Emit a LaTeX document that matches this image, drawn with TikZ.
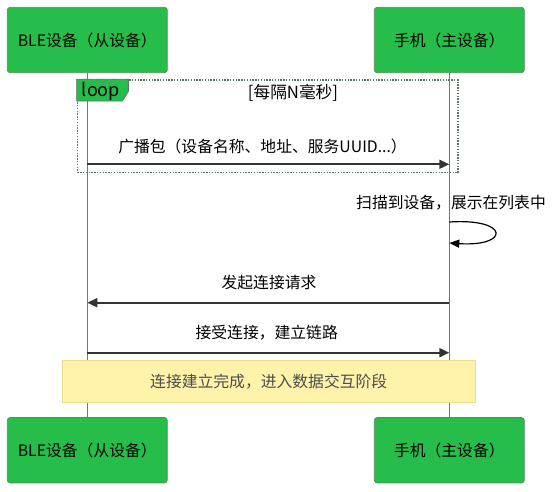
\documentclass[tikz,border=0pt]{standalone}
\usepackage{fontspec}
\setmainfont{Noto Sans CJK SC}
\usetikzlibrary{arrows.meta,positioning,calc}
\definecolor{boxgreen}{RGB}{39,189,74}
\definecolor{boxedge}{RGB}{84,140,98}
\definecolor{lifegreen}{RGB}{88,136,104}
\definecolor{msggray}{RGB}{51,51,51}
\definecolor{framegray}{RGB}{90,120,100}
\definecolor{notefill}{RGB}{255,242,170}
\definecolor{noteedge}{RGB}{238,222,140}
\definecolor{notetext}{RGB}{77,77,77}

\begin{document}
\begin{tikzpicture}[x=1pt,y=-1pt,
        actor/.style={draw=boxedge,line width=0.8pt,fill=boxgreen,rounded corners=3pt,
                minimum height=65.4pt,inner sep=0pt,font=\fontsize{15.8}{18}\selectfont},
        lifeline/.style={draw=lifegreen,line width=1.5pt},
        msg/.style={draw=msggray,line width=1.8pt,-{Triangle[length=10pt,width=9pt]}},
        selfmsg/.style={draw=black,line width=1.2pt,-{Triangle[length=10pt,width=8pt]}},
        msgtext/.style={inner sep=0pt,font=\fontsize{15.8}{18}\selectfont},
        frame/.style={draw=framegray,line width=1.3pt,dash pattern=on 1.4pt off 1.4pt,inner sep=0pt},
        looptab/.style={draw=framegray,line width=0.8pt,fill=boxgreen},
        note/.style={draw=noteedge,line width=0.8pt,fill=notefill,inner sep=0pt,
                text=notetext,font=\fontsize{15.8}{18}\selectfont}]
    \useasboundingbox (0,0) rectangle (555,492);

    \node[actor,minimum width=160pt] (bleTop) at (87.3,40) {BLE设备（从设备）};
    \node[actor,minimum width=150pt] (phoneTop) at (449.3,40) {手机（主设备）};
    \node[actor,minimum width=160pt] (bleBot) at (87.3,450.2) {BLE设备（从设备）};
    \node[actor,minimum width=150pt] (phoneBot) at (449.3,450.2) {手机（主设备）};

    \draw[lifeline] (bleTop) -- (bleBot);
    \draw[lifeline] (phoneTop) -- (phoneBot);

    % loop
    \node[frame,minimum width=380.7pt,minimum height=92.7pt] (loopframe) at (267.65,126.35) {};
    \draw[looptab] (loopframe.north west) -- ++(51.7,0) -- ++(0,12) -- ++(-6,9.7)
            -- ++(-45.7,0) -- cycle;
    \node[inner sep=0pt,font=\fontsize{18}{20}\selectfont] (looplabel) at (101,91.5) {loop};
    \node[inner sep=0pt,font=\fontsize{16.7}{18}\selectfont] (loopguard) at (293,93) {[每隔N毫秒]};

    \coordinate (adv) at (0,164.3);
    \coordinate (scanA) at (0,222);
    \coordinate (scanB) at (0,243);
    \coordinate (req) at (0,302.7);
    \coordinate (acc) at (0,352.7);

    \node[msgtext] (advtext) at (262.5,146.7) {广播包（设备名称、地址、服务UUID...）};
    \draw[msg] (bleTop |- adv) -- (phoneTop |- adv);

    \node[msgtext] (scantext) at (451,202.7) {扫描到设备，展示在列表中};
    \draw[selfmsg] (phoneTop |- scanA) .. controls (510,218) and (510,247) .. (phoneTop |- scanB);

    \node[msgtext] (reqtext) at (269,282.7) {发起连接请求};
    \draw[msg] (phoneTop |- req) -- (bleTop |- req);

    \node[msgtext] (acctext) at (266.7,332.7) {接受连接，建立链路};
    \draw[msg] (bleTop |- acc) -- (phoneTop |- acc);

    \node[note,minimum width=412.7pt,minimum height=41.6pt] (done) at (268.7,381.5) {连接建立完成，进入数据交互阶段};
\end{tikzpicture}
\end{document}
